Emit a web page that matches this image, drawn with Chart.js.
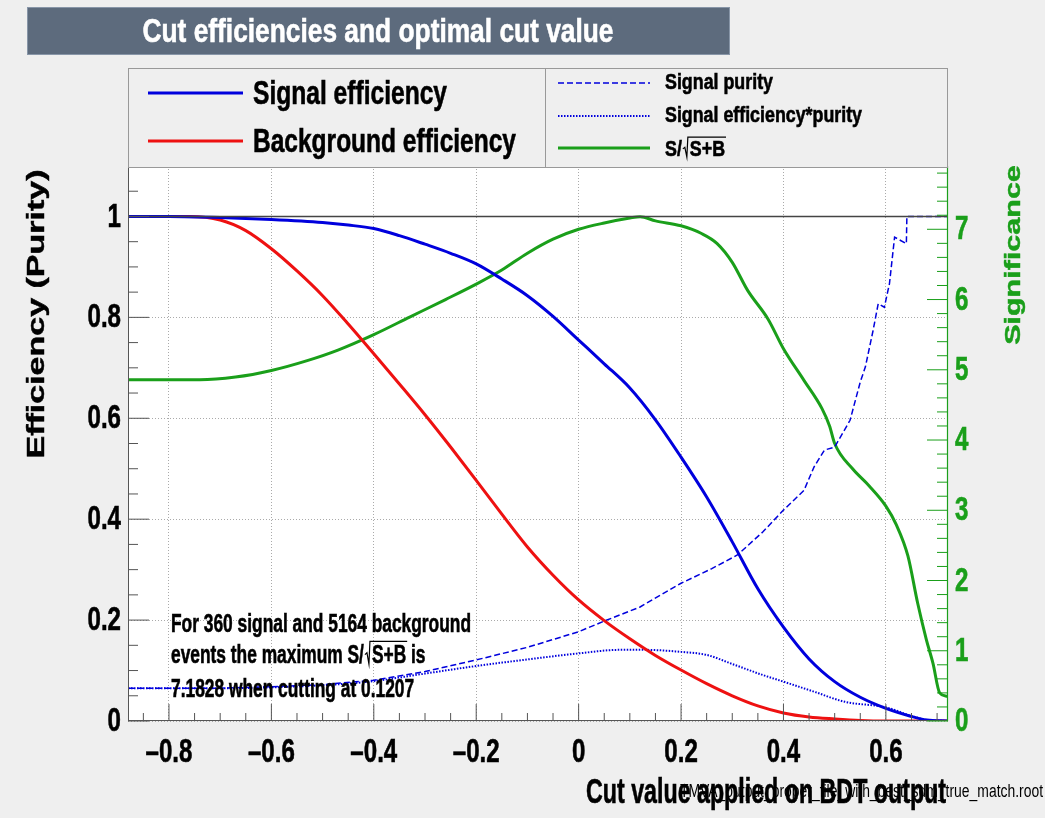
<!DOCTYPE html>
<html>
<head>
<meta charset="utf-8">
<title>Cut efficiencies and optimal cut value</title>
<script src="https://cdn.jsdelivr.net/npm/chart.js@4.4.1/dist/chart.umd.min.js"></script>
<style>
    html, body { margin: 0; padding: 0; background: #efefef; }
    canvas { display: block; }
</style>
</head>
<body>
<canvas id="cutChart" width="1045" height="818"></canvas>
<script>
// Axis ranges and tick labels
const xMin = -0.88;
const xMax = 0.7213;
const effMax = 1.1;
const maxSignificance = 7.1828;
const sigAxisMax = maxSignificance * effMax;   // right axis is scaled so the max sits on eff = 1
const xTicks = [-0.8, -0.6, -0.4, -0.2, 0, 0.2, 0.4, 0.6];
const effTicks = [0, 0.2, 0.4, 0.6, 0.8, 1];
const sigTicks = [0, 1, 2, 3, 4, 5, 6, 7];

// Signal efficiency
const sigEffX = [-0.88, -0.8, -0.7, -0.6, -0.5, -0.45, -0.4, -0.35, -0.3, -0.25, -0.2, -0.15, -0.1, -0.05, 0, 0.05, 0.1, 0.15, 0.2, 0.25, 0.3, 0.35, 0.4, 0.45, 0.5, 0.55, 0.6, 0.65, 0.68, 0.72];
const sigEffY = [1.0, 1.0, 0.998, 0.994, 0.988, 0.983, 0.976, 0.962, 0.945, 0.927, 0.906, 0.876, 0.843, 0.802, 0.755, 0.708, 0.660, 0.597, 0.523, 0.444, 0.355, 0.262, 0.186, 0.123, 0.078, 0.047, 0.025, 0.009, 0.002, 0];

// Background efficiency
const bkgEffX = [-0.88, -0.76, -0.7, -0.65, -0.6, -0.55, -0.5, -0.45, -0.4, -0.35, -0.3, -0.25, -0.2, -0.15, -0.1, -0.05, 0, 0.05, 0.1, 0.15, 0.2, 0.25, 0.3, 0.35, 0.4, 0.45, 0.5, 0.55, 0.6, 0.72];
const bkgEffY = [1.0, 1.0, 0.993, 0.972, 0.936, 0.892, 0.843, 0.787, 0.728, 0.668, 0.607, 0.543, 0.477, 0.410, 0.345, 0.289, 0.240, 0.199, 0.163, 0.130, 0.101, 0.074, 0.050, 0.030, 0.016, 0.008, 0.004, 0.001, 0, 0];

// Signal purity
const purityX = [-0.88, -0.7, -0.6, -0.5, -0.4, -0.3, -0.2, -0.1, 0, 0.05, 0.12, 0.2, 0.26, 0.31, 0.36, 0.4, 0.44, 0.46, 0.48, 0.5, 0.53, 0.55, 0.56, 0.575, 0.585, 0.597, 0.607, 0.617, 0.64, 0.641, 0.72];
const purityY = [0.065, 0.065, 0.068, 0.072, 0.081, 0.098, 0.121, 0.146, 0.177, 0.198, 0.226, 0.273, 0.302, 0.329, 0.375, 0.418, 0.457, 0.504, 0.537, 0.543, 0.596, 0.672, 0.702, 0.774, 0.827, 0.820, 0.867, 0.959, 0.946, 1.0, 1.0];

// Signal efficiency * purity
const effPurX = [-0.88, -0.7, -0.5, -0.4, -0.3, -0.2, -0.1, 0, 0.08, 0.13, 0.2, 0.25, 0.3, 0.36, 0.4, 0.46, 0.52, 0.6, 0.65, 0.68, 0.72];
const effPurY = [0.065, 0.065, 0.071, 0.079, 0.094, 0.109, 0.122, 0.134, 0.141, 0.141, 0.137, 0.131, 0.113, 0.091, 0.078, 0.058, 0.038, 0.027, 0.010, 0.002, 0];

// S/sqrt(S+B)
const signifX = [-0.88, -0.74, -0.67, -0.6, -0.53, -0.47, -0.4, -0.33, -0.26, -0.2, -0.15, -0.1, -0.05, 0, 0.05, 0.1, 0.12, 0.15, 0.2, 0.24, 0.27, 0.3, 0.33, 0.37, 0.4, 0.44, 0.475, 0.49, 0.5, 0.535, 0.567, 0.6, 0.62, 0.643, 0.662, 0.679, 0.692, 0.705, 0.72];
const signifY = [4.857, 4.857, 4.896, 4.99, 5.13, 5.28, 5.5, 5.75, 6.0, 6.22, 6.42, 6.66, 6.86, 7.0, 7.09, 7.16, 7.18, 7.12, 7.05, 6.94, 6.8, 6.53, 6.13, 5.72, 5.3, 4.85, 4.45, 4.2, 3.95, 3.59, 3.35, 3.06, 2.8, 2.35, 1.68, 1.16, 0.82, 0.40, 0.35];

const BLUE = '#0000dd';
const RED = '#ee1111';
const GREEN = '#1a9f1a';
const FONT = '"Liberation Sans", Arial, Helvetica, sans-serif';
const SQUASH = 0.73;

function toPoints(xs, ys) {
    return xs.map((x, i) => ({ x: x, y: ys[i] }));
}

// Draw squashed text; if opts.w is given the text is fitted to that width
function drawText(ctx, str, x, y, opts) {
    ctx.save();
    const weight = opts.weight || 'bold';
    ctx.font = `${weight} ${opts.size}px ${FONT}`;
    let sq = opts.sq || SQUASH;
    if (opts.w) sq = opts.w / ctx.measureText(str).width;
    ctx.translate(x, y);
    if (opts.rot) {
        ctx.rotate(opts.rot);
        ctx.scale(1, sq);
    } else {
        ctx.scale(sq, 1);
    }
    ctx.fillStyle = opts.color || '#000';
    ctx.textAlign = opts.align || 'left';
    ctx.textBaseline = opts.base || 'alphabetic';
    ctx.fillText(str, 0, 0);
    if (weight === 'bold') {
        // a bit heavier, like the ROOT bold helvetica
        ctx.strokeStyle = opts.color || '#000';
        ctx.lineWidth = 0.6;
        ctx.strokeText(str, 0, 0);
    }
    ctx.restore();
    return sq;
}

// Text of the form pre + sqrt(rad) + post
function drawSqrtText(ctx, pre, rad, post, x, y, size, sq, color) {
    ctx.save();
    ctx.font = `bold ${size}px ${FONT}`;
    const wPre = ctx.measureText(pre).width * sq;
    const wRad = ctx.measureText(rad).width * sq;
    const cap = size * 0.72;
    drawText(ctx, pre, x, y, { size: size, sq: sq, color: color });
    const rx = x + wPre + 1;
    ctx.strokeStyle = color || '#000';
    ctx.lineWidth = 1.2;
    ctx.beginPath();
    ctx.moveTo(rx, y - cap * 0.45);
    ctx.lineTo(rx + 2, y - cap * 0.55);
    ctx.lineTo(rx + 4, y + 1);
    ctx.lineTo(rx + 5, y - cap - 3);
    ctx.lineTo(rx + 8 + wRad, y - cap - 3);
    ctx.stroke();
    drawText(ctx, rad, rx + 7, y, { size: size, sq: sq, color: color });
    if (post) drawText(ctx, post, rx + 7 + wRad, y, { size: size, sq: sq, color: color });
    ctx.restore();
}

function line(ctx, x1, y1, x2, y2, color, width, dash) {
    ctx.save();
    ctx.strokeStyle = color;
    ctx.lineWidth = width;
    ctx.setLineDash(dash || []);
    ctx.beginPath();
    ctx.moveTo(x1, y1);
    ctx.lineTo(x2, y2);
    ctx.stroke();
    ctx.restore();
}

// Page background, white frame, ROOT-like decorations
const rootDecor = {
    id: 'rootDecor',
    beforeDraw(chart) {
        const { ctx, chartArea: a } = chart;
        ctx.save();
        ctx.fillStyle = '#efefef';
        ctx.fillRect(0, 0, chart.width, chart.height);
        ctx.fillStyle = '#ffffff';
        ctx.fillRect(a.left, a.top, a.right - a.left, a.bottom - a.top);
        ctx.restore();
    },
    afterDatasetsDraw(chart) {
        const { ctx, chartArea: a, scales } = chart;
        // line at efficiency = 1
        const y1 = scales.y.getPixelForValue(1);
        line(ctx, a.left, y1, a.right, y1, '#444', 1.5);
    },
    afterDraw(chart) {
        const { ctx, chartArea: a, scales } = chart;
        const x = scales.x, y = scales.y, y2 = scales.y2;

        // frame
        ctx.save();
        ctx.strokeStyle = '#555';
        ctx.lineWidth = 1;
        ctx.strokeRect(a.left + 0.5, a.top + 0.5, a.right - a.left - 1, a.bottom - a.top - 1);
        ctx.restore();
        line(ctx, a.right - 0.5, a.top, a.right - 0.5, a.bottom, GREEN, 1.2);

        // x ticks (major 0.2, minor 0.05)
        for (let i = -17; i <= 14; i++) {
            const v = i * 0.05;
            const px = x.getPixelForValue(v);
            const major = i % 4 === 0;
            line(ctx, px, a.bottom, px, a.bottom - (major ? 17 : 8), '#555', 1);
        }
        // left ticks
        for (let i = 0; i <= 22; i++) {
            const py = y.getPixelForValue(i * 0.05);
            const major = i % 4 === 0;
            line(ctx, a.left, py, a.left + (major ? 21 : 10), py, '#555', 1);
        }
        // right ticks (green)
        for (let i = 0; i <= 39; i++) {
            const py = y2.getPixelForValue(i * 0.2);
            const major = i % 5 === 0;
            line(ctx, a.right, py, a.right - (major ? 21 : 11), py, GREEN, 1);
        }

        // tick labels
        xTicks.forEach(v => {
            const s = v < 0 ? '\u2013' + Math.abs(v).toFixed(1) : (v === 0 ? '0' : v.toFixed(1));
            drawText(ctx, s, x.getPixelForValue(v), 762, { size: 33, align: 'center' });
        });
        effTicks.forEach(v => {
            const s = v === 0 ? '0' : (v === 1 ? '1' : v.toFixed(1));
            drawText(ctx, s, 121, y.getPixelForValue(v) + 1, { size: 33, align: 'right', base: 'middle' });
        });
        sigTicks.forEach(v => {
            drawText(ctx, String(v), 955, y2.getPixelForValue(v) + 1, { size: 33, color: GREEN, base: 'middle' });
        });

        // axis titles
        drawText(ctx, 'Efficiency (Purity)', 44, 314, { size: 34, align: 'center', rot: -Math.PI / 2 });
        drawText(ctx, 'Significance', 1020, 255, { size: 30.5, align: 'center', rot: -Math.PI / 2, color: GREEN });
        drawText(ctx, 'Cut value applied on BDT output', 946, 803, { size: 35, align: 'right', w: 360 });
        drawText(ctx, 'TMVA_output_proper_file_with_best_sdm_true_match.root', 1043, 797,
            { size: 18, weight: 'normal', align: 'right', w: 363 });

        // title box
        ctx.save();
        ctx.fillStyle = '#5d6b7d';
        ctx.fillRect(27, 7, 703, 48);
        ctx.strokeStyle = '#8896a8';
        ctx.strokeRect(27.5, 7.5, 702, 47);
        ctx.restore();
        drawText(ctx, 'Cut efficiencies and optimal cut value', 378, 42, { size: 34, align: 'center', color: '#ffffff', w: 471 });

        // legend box
        ctx.save();
        ctx.fillStyle = '#efefef';
        ctx.fillRect(128, 68, 820, 99);
        ctx.strokeStyle = '#999';
        ctx.lineWidth = 1;
        ctx.strokeRect(128.5, 68.5, 819, 99);
        ctx.beginPath();
        ctx.moveTo(545.5, 68);
        ctx.lineTo(545.5, 168);
        ctx.stroke();
        ctx.restore();

        line(ctx, 148, 93, 243, 93, BLUE, 3);
        line(ctx, 148, 141, 243, 141, RED, 3);
        drawText(ctx, 'Signal efficiency', 253, 104, { size: 33, w: 194 });
        drawText(ctx, 'Background efficiency', 253, 152, { size: 33, w: 263 });

        line(ctx, 558, 83, 650, 83, BLUE, 1.5, [6, 3]);
        line(ctx, 558, 116, 650, 116, BLUE, 2, [1.5, 1.5]);
        line(ctx, 558, 148, 650, 148, GREEN, 3);
        const sqSmall = drawText(ctx, 'Signal purity', 665, 89, { size: 22, w: 108 });
        drawText(ctx, 'Signal efficiency*purity', 665, 122, { size: 22, w: 197 });
        drawSqrtText(ctx, 'S/', 'S+B', '', 665, 156, 22, sqSmall, '#000');

        // optimal cut annotation
        const sqNote = drawText(ctx, 'For 360 signal and 5164 background', 171, 632, { size: 26, w: 300 });
        drawSqrtText(ctx, 'events the maximum S/', 'S+B', ' is', 171, 663, 26, sqNote, '#000');
        drawText(ctx, '7.1828 when cutting at 0.1207', 171, 697, { size: 26, sq: sqNote });
    }
};

function initializeChart() {
    const ctx = document.getElementById('cutChart');
    new Chart(ctx, {
        type: 'line',
        data: {
            datasets: [
                {
                    label: 'Signal efficiency',
                    data: toPoints(sigEffX, sigEffY),
                    borderColor: BLUE,
                    borderWidth: 3,
                    cubicInterpolationMode: 'monotone',
                    yAxisID: 'y'
                },
                {
                    label: 'Background efficiency',
                    data: toPoints(bkgEffX, bkgEffY),
                    borderColor: RED,
                    borderWidth: 3,
                    cubicInterpolationMode: 'monotone',
                    yAxisID: 'y'
                },
                {
                    label: 'Signal purity',
                    data: toPoints(purityX, purityY),
                    borderColor: BLUE,
                    borderWidth: 1.5,
                    borderDash: [6, 3],
                    yAxisID: 'y'
                },
                {
                    label: 'Signal efficiency*purity',
                    data: toPoints(effPurX, effPurY),
                    borderColor: BLUE,
                    borderWidth: 2,
                    borderDash: [1.5, 1.5],
                    cubicInterpolationMode: 'monotone',
                    yAxisID: 'y'
                },
                {
                    label: 'S/sqrt(S+B)',
                    data: toPoints(signifX, signifY),
                    borderColor: GREEN,
                    borderWidth: 3,
                    cubicInterpolationMode: 'monotone',
                    yAxisID: 'y2'
                }
            ]
        },
        options: {
            responsive: false,
            animation: false,
            events: [],
            layout: { padding: { top: 166, left: 0, right: 0, bottom: 0 } },
            elements: {
                point: { radius: 0 },
                line: { tension: 0, fill: false }
            },
            plugins: {
                legend: { display: false },
                tooltip: { enabled: false },
                title: { display: false }
            },
            scales: {
                x: {
                    type: 'linear',
                    min: xMin,
                    max: xMax,
                    afterBuildTicks: s => { s.ticks = xTicks.map(v => ({ value: v })); },
                    afterFit: s => { s.height = 97; },
                    ticks: { display: false },
                    grid: { color: '#aaaaaa', lineWidth: 1, drawTicks: false },
                    border: { display: false, dash: [1, 2] }
                },
                y: {
                    type: 'linear',
                    position: 'left',
                    min: 0,
                    max: effMax,
                    afterBuildTicks: s => { s.ticks = effTicks.map(v => ({ value: v })); },
                    afterFit: s => { s.width = 128; },
                    ticks: { display: false },
                    grid: { color: '#aaaaaa', lineWidth: 1, drawTicks: false },
                    border: { display: false, dash: [1, 2] }
                },
                y2: {
                    type: 'linear',
                    position: 'right',
                    min: 0,
                    max: sigAxisMax,
                    afterFit: s => { s.width = 97; },
                    ticks: { display: false },
                    grid: { display: false, drawTicks: false },
                    border: { display: false }
                }
            }
        },
        plugins: [rootDecor]
    });
}

if (document.readyState === 'loading') {
    document.addEventListener('DOMContentLoaded', initializeChart);
} else {
    initializeChart();
}
</script>
</body>
</html>
